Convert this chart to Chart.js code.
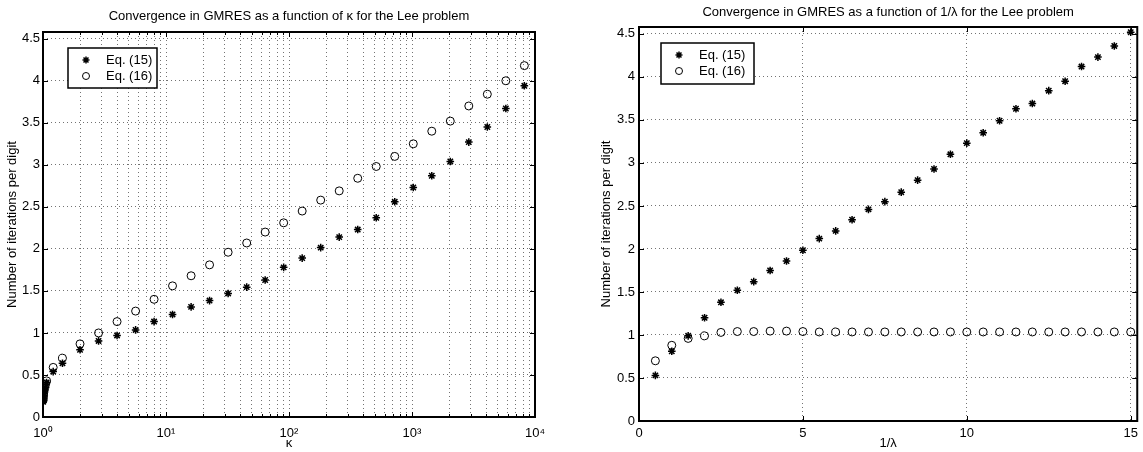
<!DOCTYPE html>
<html>
<head>
<meta charset="utf-8">
<script src="https://cdn.jsdelivr.net/npm/chart.js@4"></script>
<style>
  body { margin: 0; background: #fff; }
  canvas { position: absolute; top: 0; }
</style>
</head>
<body>
<canvas id="kappaChart" width="560" height="452" style="left:0"></canvas>
<canvas id="lambdaChart" width="563" height="452" style="left:580px"></canvas>
<script>
// values
var kappa = [1.003, 1.006, 1.01, 1.015, 1.02, 1.03, 1.05, 1.07, 1.21, 1.44,
  2, 2.83, 4, 5.66, 8, 11.3, 16, 22.6, 32, 45.3, 64, 90.5, 128, 181, 256,
  362, 512, 724, 1024, 1448, 2048, 2896, 4096, 5793, 8192];
var kappaEq15 = [0.18, 0.2, 0.22, 0.25, 0.28, 0.31, 0.35, 0.41, 0.54, 0.64,
  0.8, 0.905, 0.97, 1.036, 1.135, 1.22, 1.31, 1.385, 1.47, 1.545, 1.63, 1.78, 1.89, 2.015, 2.14,
  2.23, 2.37, 2.56, 2.73, 2.87, 3.04, 3.27, 3.45, 3.67, 3.94];
var kappaEq16 = [0.2, 0.23, 0.26, 0.29, 0.32, 0.35, 0.39, 0.43, 0.59, 0.7,
  0.87, 1.0, 1.135, 1.26, 1.4, 1.56, 1.68, 1.81, 1.96, 2.07, 2.2, 2.31, 2.45, 2.58, 2.69,
  2.84, 2.98, 3.1, 3.25, 3.4, 3.52, 3.7, 3.84, 4.0, 4.18];

var invLambda = [0.5, 1, 1.5, 2, 2.5, 3, 3.5, 4, 4.5, 5, 5.5, 6, 6.5, 7, 7.5,
  8, 8.5, 9, 9.5, 10, 10.5, 11, 11.5, 12, 12.5, 13, 13.5, 14, 14.5, 15];
var lambdaEq15 = [0.53, 0.81, 0.99, 1.2, 1.38, 1.52, 1.62, 1.75, 1.86, 1.985, 2.12, 2.21, 2.34, 2.46, 2.55,
  2.66, 2.8, 2.93, 3.1, 3.23, 3.35, 3.49, 3.63, 3.69, 3.84, 3.95, 4.12, 4.23, 4.36, 4.52];
var lambdaEq16 = [0.7, 0.88, 0.96, 0.99, 1.03, 1.04, 1.04, 1.045, 1.045, 1.04, 1.035, 1.035, 1.035, 1.035, 1.035,
  1.035, 1.035, 1.035, 1.035, 1.035, 1.035, 1.035, 1.035, 1.035, 1.035, 1.035, 1.035, 1.035, 1.035, 1.035];

// tick values and labels
var yTicks = [0, 0.5, 1, 1.5, 2, 2.5, 3, 3.5, 4, 4.5];
var logTicks = [1, 2, 3, 4, 5, 6, 7, 8, 9, 10, 20, 30, 40, 50, 60, 70, 80, 90,
  100, 200, 300, 400, 500, 600, 700, 800, 900, 1000, 2000, 3000, 4000, 5000, 6000, 7000, 8000, 9000, 10000];
var logLabels = { 1: "10\u2070", 10: "10\u00b9", 100: "10\u00b2", 1000: "10\u00b3", 10000: "10\u2074" };
var lambdaTicks = [0, 5, 10, 15];

Chart.defaults.font.family = "'Liberation Sans', Arial, sans-serif";
Chart.defaults.color = "#000";

function toPoints(xs, ys) {
  return xs.map(function (x, i) { return { x: x, y: ys[i] }; });
}

function setTicks(list) {
  return function (scale) {
    scale.ticks = list.map(function (v) {
      return { value: v, major: v in logLabels };
    });
  };
}

// plain number labels, no trailing zeros
function plainLabel(v) {
  return String(v);
}

// dotted MATLAB-like grid
var grid = { color: "rgba(0,0,0,0.55)", lineWidth: 1, drawTicks: false };
var border = { display: false, dash: [1, 3] };

// box, inner tick marks and title
var framePlugin = {
  id: "frame",
  beforeDatasetsDraw: function (chart) {
    var ctx = chart.ctx, a = chart.chartArea;
    var xs = chart.scales.x, ys = chart.scales.y;
    ctx.save();
    ctx.strokeStyle = "#000";
    ctx.lineWidth = 1;
    ctx.beginPath();
    xs.ticks.forEach(function (t) {
      var px = Math.round(xs.getPixelForValue(t.value)) + 0.5;
      var len = (xs.type === "logarithmic" && !(t.value in logLabels)) ? 3 : 5;
      ctx.moveTo(px, a.bottom); ctx.lineTo(px, a.bottom - len);
      ctx.moveTo(px, a.top); ctx.lineTo(px, a.top + len);
    });
    ys.ticks.forEach(function (t) {
      var py = Math.round(ys.getPixelForValue(t.value)) + 0.5;
      ctx.moveTo(a.left, py); ctx.lineTo(a.left + 5, py);
      ctx.moveTo(a.right, py); ctx.lineTo(a.right - 5, py);
    });
    ctx.stroke();
    ctx.lineWidth = 2;
    ctx.strokeRect(a.left, a.top, a.right - a.left, a.bottom - a.top);
    ctx.restore();
  },
  afterDraw: function (chart, args, opts) {
    var ctx = chart.ctx, a = chart.chartArea;
    ctx.save();
    ctx.fillStyle = "#000";
    ctx.font = "13px 'Liberation Sans', Arial, sans-serif";
    ctx.textAlign = "center";
    ctx.textBaseline = "middle";
    ctx.fillText(opts.title, (a.left + a.right) / 2, opts.titleY);
    ctx.restore();
  }
};

// boxed legend in the upper left corner
var legendPlugin = {
  id: "boxLegend",
  afterDraw: function (chart, args, opts) {
    var ctx = chart.ctx, a = chart.chartArea;
    var x = a.left + opts.dx, y = a.top + opts.dy;
    ctx.save();
    ctx.fillStyle = "#fff";
    ctx.fillRect(x, y, opts.w, opts.h);
    ctx.strokeStyle = "#000";
    ctx.lineWidth = 1.5;
    ctx.strokeRect(x, y, opts.w, opts.h);
    ctx.font = "13px 'Liberation Sans', Arial, sans-serif";
    ctx.textBaseline = "middle";
    ctx.fillStyle = "#000";
    chart.data.datasets.forEach(function (ds, i) {
      var cy = y + 12 + i * 16;
      var cx = x + 18;
      ctx.beginPath();
      if (ds.pointStyle === "star") {
        var r = 3.5, d = r * Math.SQRT1_2;
        ctx.lineWidth = 1.5;
        ctx.moveTo(cx - r, cy); ctx.lineTo(cx + r, cy);
        ctx.moveTo(cx, cy - r); ctx.lineTo(cx, cy + r);
        ctx.moveTo(cx - d, cy - d); ctx.lineTo(cx + d, cy + d);
        ctx.moveTo(cx - d, cy + d); ctx.lineTo(cx + d, cy - d);
      } else {
        ctx.lineWidth = 1;
        ctx.arc(cx, cy, 3.5, 0, Math.PI * 2);
      }
      ctx.stroke();
      ctx.fillText(ds.label, x + 38, cy);
    });
    ctx.restore();
  }
};

function starSet(label, pts) {
  return { label: label, data: pts, pointStyle: "star", pointRadius: 3.8,
    pointBorderWidth: 1.5, pointBorderColor: "#000", pointBackgroundColor: "#000", showLine: false };
}
function circleSet(label, pts) {
  return { label: label, data: pts, pointStyle: "circle", pointRadius: 4,
    pointBorderWidth: 1, pointBorderColor: "#000", pointBackgroundColor: "rgba(0,0,0,0)", showLine: false };
}

var yTitle = "Number of iterations per digit";

// left chart: iterations against kappa
new Chart(document.getElementById("kappaChart"), {
  type: "scatter",
  data: {
    datasets: [
      starSet("Eq. (15)", toPoints(kappa, kappaEq15)),
      circleSet("Eq. (16)", toPoints(kappa, kappaEq16))
    ]
  },
  options: {
    responsive: false,
    animation: false,
    events: [],
    layout: { padding: { top: 32, right: 25, left: 0, bottom: 0 } },
    plugins: {
      legend: { display: false },
      tooltip: { enabled: false },
      frame: { title: "Convergence in GMRES as a function of \u03ba for the Lee problem", titleY: 16 },
      boxLegend: { dx: 25, dy: 16, w: 89, h: 40 }
    },
    scales: {
      x: {
        type: "logarithmic", min: 1, max: 10000,
        afterBuildTicks: setTicks(logTicks),
        afterFit: function (s) { s.height = 35; },
        grid: grid, border: border,
        ticks: { autoSkip: false, maxRotation: 0, padding: 9, font: { size: 13 },
          callback: function (v) { return logLabels[v] || ""; } },
        title: { display: true, text: "\u03ba", font: { size: 13 }, padding: { top: 0, bottom: 1 } }
      },
      y: {
        min: 0, max: 4.58,
        afterBuildTicks: setTicks(yTicks),
        afterFit: function (s) { s.width = 43; },
        grid: grid, border: border,
        ticks: { padding: 3, font: { size: 13 }, callback: plainLabel },
        title: { display: true, text: yTitle, font: { size: 13 }, padding: { top: 5, bottom: 0 } }
      }
    }
  },
  plugins: [framePlugin, legendPlugin]
});

// right chart: iterations against 1/lambda
new Chart(document.getElementById("lambdaChart"), {
  type: "scatter",
  data: {
    datasets: [
      starSet("Eq. (15)", toPoints(invLambda, lambdaEq15)),
      circleSet("Eq. (16)", toPoints(invLambda, lambdaEq16))
    ]
  },
  options: {
    responsive: false,
    animation: false,
    events: [],
    layout: { padding: { top: 27, right: 5, left: 0, bottom: 0 } },
    plugins: {
      legend: { display: false },
      tooltip: { enabled: false },
      frame: { title: "Convergence in GMRES as a function of 1/\u03bb for the Lee problem", titleY: 12 },
      boxLegend: { dx: 22, dy: 16, w: 93, h: 41 }
    },
    scales: {
      x: {
        type: "linear", min: 0, max: 15.2,
        afterBuildTicks: setTicks(lambdaTicks),
        afterFit: function (s) { s.height = 31; },
        grid: grid, border: border,
        ticks: { maxRotation: 0, padding: 5, font: { size: 13 }, callback: plainLabel },
        title: { display: true, text: "1/\u03bb", font: { size: 13 }, padding: { top: 0, bottom: 1 } }
      },
      y: {
        min: 0, max: 4.58,
        afterBuildTicks: setTicks(yTicks),
        afterFit: function (s) { s.width = 59; },
        grid: grid, border: border,
        ticks: { padding: 4, font: { size: 13 }, callback: plainLabel },
        title: { display: true, text: yTitle, font: { size: 13 }, padding: { top: 19, bottom: 0 } }
      }
    }
  },
  plugins: [framePlugin, legendPlugin]
});
</script>
</body>
</html>
